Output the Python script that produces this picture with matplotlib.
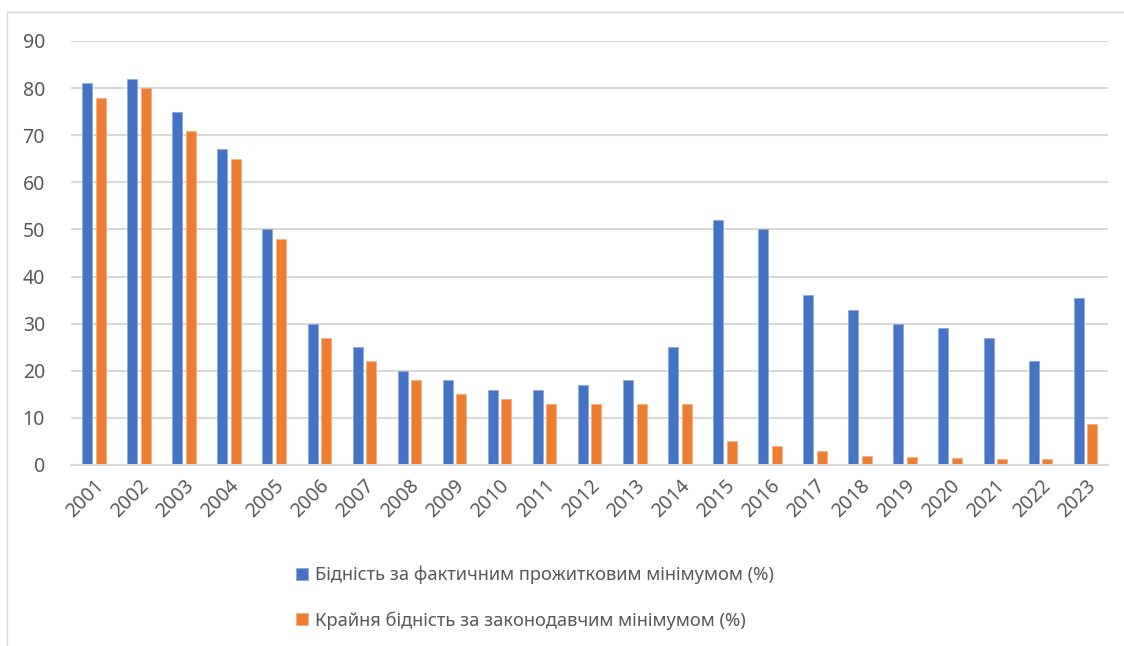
import matplotlib.pyplot as plt
import numpy as np

plt.rcParams['font.family'] = ['Noto Sans', 'DejaVu Sans']

years = [str(y) for y in range(2001, 2024)]
poverty_actual = [81, 82, 75, 67, 50, 30, 25, 20, 18, 16, 16, 17, 18, 25,
                  52, 50, 36, 33, 30, 29, 27, 22, 35.5]
poverty_extreme = [78, 80, 71, 65, 48, 27, 22, 18, 15, 14, 13, 13, 13, 13,
                   5, 4, 3, 2, 1.7, 1.4, 1.3, 1.2, 8.7]
labels = ['Бідність за фактичним прожитковим мінімумом (%)',
          'Крайня бідність за законодавчим мінімумом (%)']

blue = '#4472C4'
orange = '#ED7D31'
grid_c = '#D9D9D9'
text_c = '#595959'

fig = plt.figure(figsize=(11.24, 6.46), dpi=100)
ax = fig.add_axes([71.4 / 1124, 1 - 465 / 646, (1108 - 71.4) / 1124, (465 - 41) / 646])

x = np.arange(len(years))
w = 0.222
off = 0.15
b1 = ax.bar(x - off, poverty_actual, w, color=blue, edgecolor='#8FAADC', linewidth=0.6)
b2 = ax.bar(x + off, poverty_extreme, w, color=orange, edgecolor='#F4B183', linewidth=0.6)

ax.set_xlim(-0.5, len(years) - 0.5)
ax.set_ylim(0, 90)
ax.set_yticks(range(0, 91, 10))
ax.yaxis.grid(True, color=grid_c, linewidth=1.5)
ax.set_axisbelow(True)
for s in ['top', 'right', 'left']:
    ax.spines[s].set_visible(False)
ax.spines['bottom'].set_color(grid_c)
ax.spines['bottom'].set_linewidth(1.5)
ax.tick_params(axis='both', length=0, labelsize=14, labelcolor=text_c)
ax.tick_params(axis='y', pad=19)
ax.set_xticks(x)
ax.set_xticklabels(years, rotation=45, ha='right', rotation_mode='anchor')
ax.tick_params(axis='x', pad=8)

# chart border (top and left visible)
fig.add_artist(plt.Line2D([7 / 1124, 1], [1 - 12 / 646, 1 - 12 / 646],
                          transform=fig.transFigure, color=grid_c, linewidth=1))
fig.add_artist(plt.Line2D([7 / 1124, 7 / 1124], [0, 1 - 12 / 646],
                          transform=fig.transFigure, color=grid_c, linewidth=1))

fig.legend([b1, b2], labels, loc='upper left', bbox_to_anchor=(296 / 1124, 1 - 566 / 646),
           frameon=False, fontsize=13.2, labelcolor=text_c, handlelength=0.65,
           handleheight=0.65, handletextpad=0.4, labelspacing=1.45,
           borderpad=0, borderaxespad=0)

fig.savefig('out.png', dpi=100)
